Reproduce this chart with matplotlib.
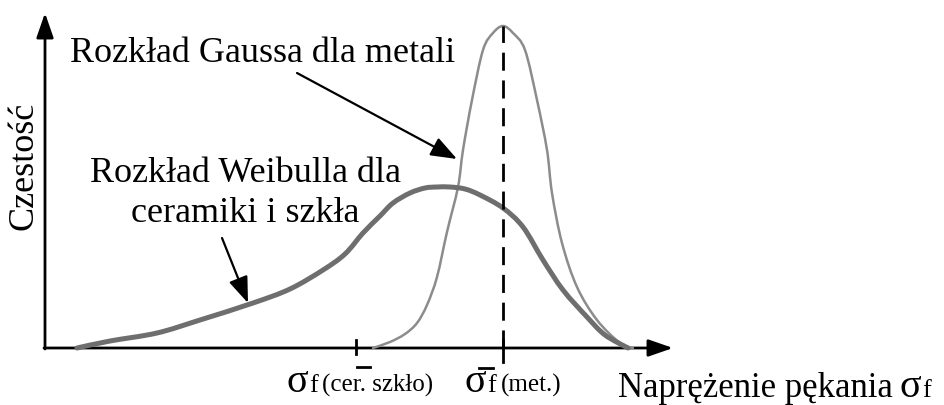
import matplotlib
matplotlib.use("Agg")
import matplotlib.pyplot as plt
from matplotlib.path import Path
from matplotlib.patches import PathPatch

plt.rcParams['font.family'] = ['Liberation Serif', 'DejaVu Serif']

# Fracture stress axis (arbitrary units) and relative frequency (arbitrary units)
gauss_stress = [373, 390, 405, 417, 427, 437, 447, 458, 463, 472, 483, 493, 503,
                513, 525, 537, 547, 552, 562, 577, 597, 620, 633]
gauss_freq = [0, 6, 14, 25, 43, 71, 116, 161, 198, 248, 298, 315, 322,
              315, 298, 248, 198, 155, 105, 61, 28, 5, 0]

weibull_stress = [77, 110, 157, 200, 253, 290, 323, 345, 363, 380, 393, 410, 425,
                  437, 450, 465, 480, 503, 523, 543, 563, 587, 605, 628]
weibull_freq = [0, 7, 15, 28, 45, 59, 78, 94, 115, 132, 145, 155, 160,
                161, 161, 159, 153, 140, 121, 88, 58, 31, 13, 0]

sigma_ceramic = 356   # mean fracture stress, ceramics and glass
sigma_metal = 503     # mean fracture stress, metals

ylabel = "Czestość"
xlabel = "Naprężenie pękania"
gauss_label = "Rozkład Gaussa dla metali"
weibull_label = ["Rozkład Weibulla dla", "ceramiki i szkła"]

fig = plt.figure(figsize=(9.45, 4.05), dpi=100)
ax = fig.add_axes([0, 0, 1, 1])
ax.set_xlim(0, 945)
ax.set_ylim(-57, 348)
ax.axis('off')


def smooth_path(xs, ys):
    """Bezier path passing through the given points (Catmull-Rom tangents)."""
    pts = list(zip(xs, ys))
    verts = [pts[0]]
    codes = [Path.MOVETO]
    n = len(pts)
    for i in range(n - 1):
        p0 = pts[max(i - 1, 0)]
        p1 = pts[i]
        p2 = pts[i + 1]
        p3 = pts[min(i + 2, n - 1)]
        c1 = (p1[0] + (p2[0] - p0[0]) / 6, p1[1] + (p2[1] - p0[1]) / 6)
        c2 = (p2[0] - (p3[0] - p1[0]) / 6, p2[1] - (p3[1] - p1[1]) / 6)
        verts += [c1, c2, p2]
        codes += [Path.CURVE4] * 3
    return Path(verts, codes)


x0 = 45          # origin of the drawn axes
y_top = 335
x_end = 673

axis_arrow = dict(arrowstyle='-|>,head_length=0.75,head_width=0.26',
                  color='black', lw=2.0, shrinkA=0, shrinkB=0, mutation_scale=20)
ax.annotate('', xy=(x_end, 0), xytext=(x0 - 1, 0), arrowprops=axis_arrow)
ax.annotate('', xy=(x0, y_top), xytext=(x0, -1), arrowprops=axis_arrow)

# distributions
ax.add_patch(PathPatch(smooth_path(gauss_stress, gauss_freq), facecolor='none',
                       edgecolor='#8c8c8c', lw=1.8, capstyle='round', zorder=3))
ax.add_patch(PathPatch(smooth_path(weibull_stress, weibull_freq), facecolor='none',
                       edgecolor='#6e6e6e', lw=3.6, capstyle='round', zorder=4))

# mean of the metal distribution
peak = max(gauss_freq)
ax.plot([sigma_metal, sigma_metal], [0, peak], color='black', lw=2.0,
        dashes=(6.5, 3.5), zorder=5)
ax.plot([sigma_metal, sigma_metal], [8, -14], color='black', lw=2.0, zorder=5)
ax.plot([sigma_ceramic, sigma_ceramic], [8, -6], color='black', lw=2.0, zorder=5)

# overbars of the mean symbols
ax.plot([sigma_ceramic + 1, sigma_ceramic + 14], [-19, -19], color='black', lw=2.0)
ax.plot([sigma_metal - 24, sigma_metal - 10], [-20, -20], color='black', lw=2.0)

# annotations
pointer = dict(arrowstyle='-|>,head_length=0.8,head_width=0.3',
               color='black', lw=1.6, shrinkA=0, shrinkB=0, mutation_scale=20)
ax.text(70, 286, gauss_label, fontsize=26, ha='left', va='baseline')
ax.annotate('', xy=(457, 189), xytext=(297, 275), arrowprops=pointer)

ax.text(245, 166, weibull_label[0], fontsize=26, ha='center', va='baseline')
ax.text(245, 126, weibull_label[1], fontsize=26, ha='center', va='baseline')
ax.annotate('', xy=(248, 45), xytext=(222, 110), arrowprops=pointer)

ax.text(24, 182, ylabel, fontsize=26, rotation=90, ha='center', va='center')

fig.canvas.draw()
renderer = fig.canvas.get_renderer()


def text_run(x, y, parts):
    """Write consecutive text pieces on one baseline."""
    for s, size, gap in parts:
        x += gap
        t = ax.text(x, y, s, fontsize=size, ha='left', va='baseline')
        x += t.get_window_extent(renderer).width
    return x


text_run(286, -44, [("σ", 29, 0), ("f", 19, 2), ("(cer. szkło)", 18, 4)])
text_run(464, -44, [("σ", 29, 0), ("f", 19, 2), ("(met.)", 18, 4)])
text_run(618, -49, [(xlabel, 25, 0), ("σ", 29, 7), ("f", 19, 1)])

fig.savefig('out.png', dpi=100)
